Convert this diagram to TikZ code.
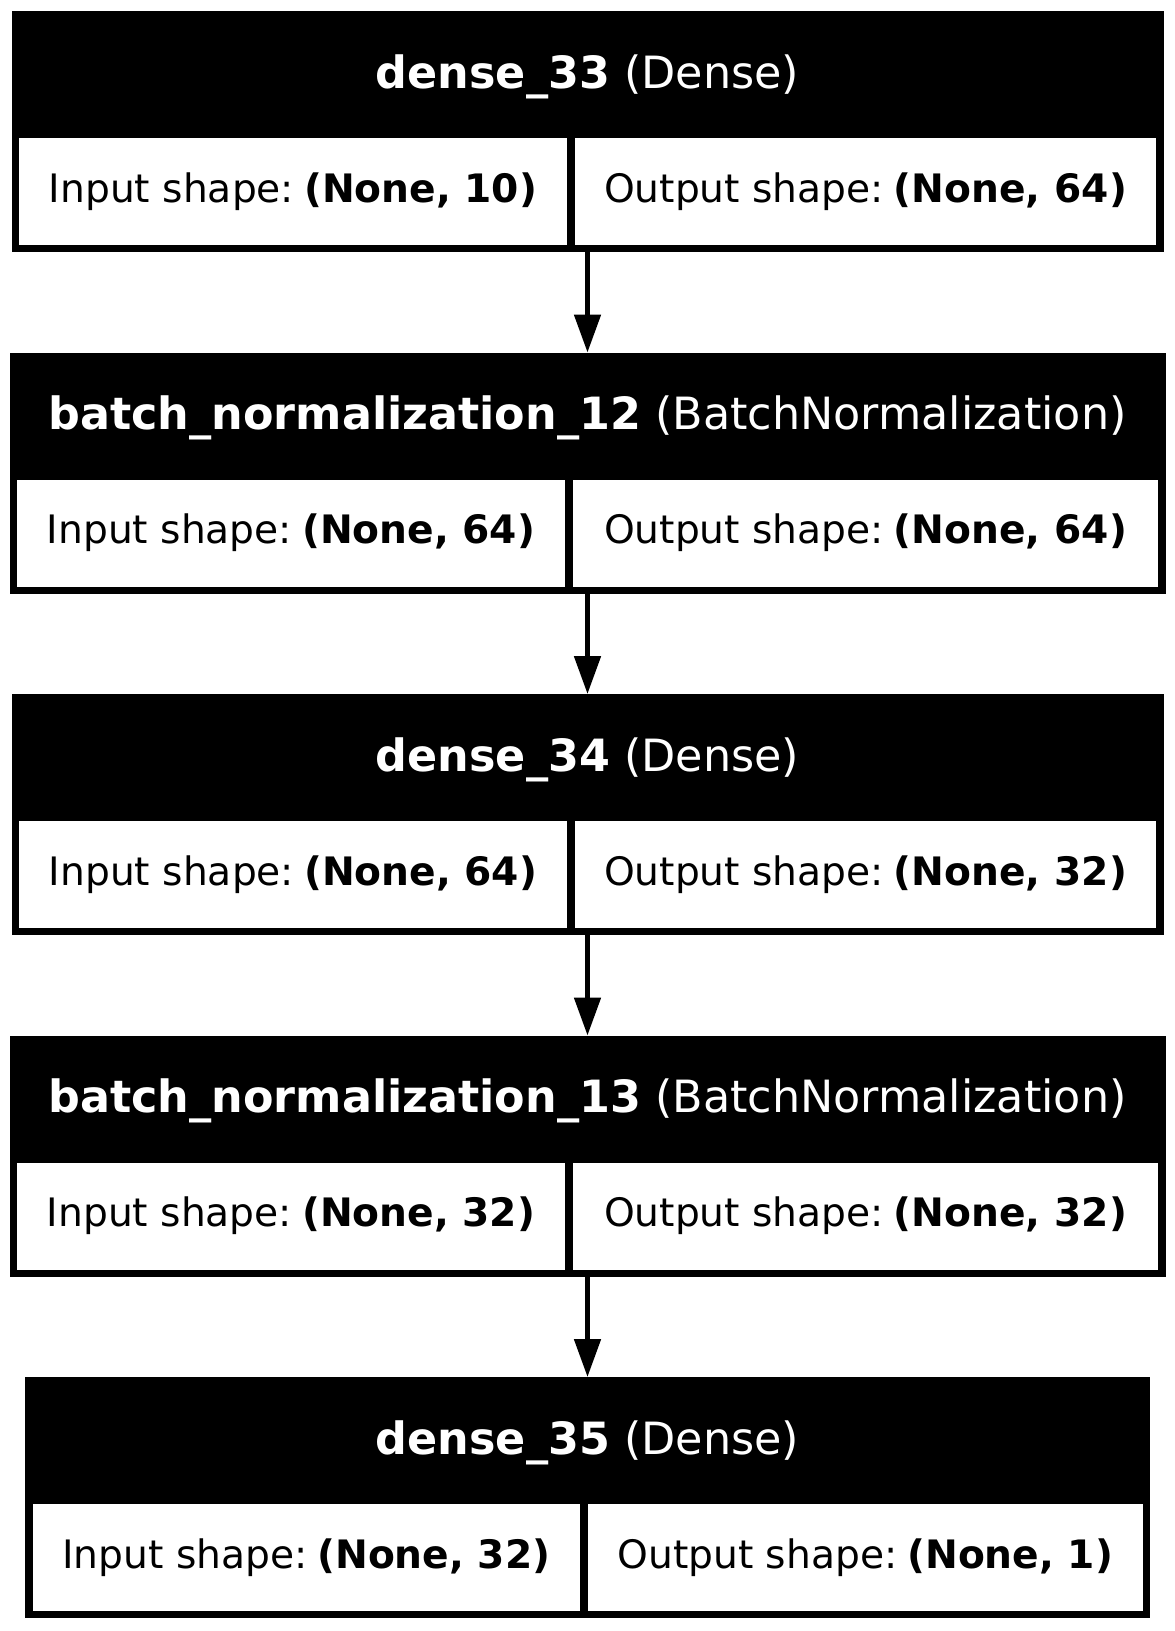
\documentclass[tikz,border=0pt]{standalone}
\usepackage{fontspec}
\setmainfont{DejaVu Sans}
\usepackage{tikz}
\usetikzlibrary{arrows, arrows.meta, positioning}
\tikzstyle{layer}=[rectangle, fill=black, inner sep=0pt, outer sep=0pt, minimum height=86.76pt, anchor=north]
\tikzstyle{head}=[text=white, inner sep=0pt, font=\fontsize{16}{19}\selectfont]
\tikzstyle{cell}=[rectangle, fill=white, inner sep=0pt, outer sep=0pt, minimum height=38.52pt, font=\fontsize{14.1}{17}\selectfont]
\tikzstyle{feed}=[{Triangle[width=9.36pt, length=13.68pt]}-, line width=1.8pt]

\begin{document}
\begin{tikzpicture}[x=1pt, y=-1pt]
          \useasboundingbox (0,0) rectangle (423,587.16);

          \node[layer, minimum width=414.72pt] (b1) at (211.5,3.96) {};
          \node[head] (h1) [below=27.72pt of b1.north, anchor=base] {\textbf{dense\_33} (Dense)};
          \node[cell, minimum width=197.28pt] (i1) [below right=45.72pt and 2.7pt of b1.north west] {Input shape:\hspace{3.6pt}\textbf{(None, 10)}};
          \node[cell, minimum width=209.16pt] (o1) [right=2.88pt of i1] {Output shape:\hspace{3.6pt}\textbf{(None, 64)}};

          \node[layer, minimum width=416.16pt] (b2) [below=36.18pt of b1] {}
							  edge [feed] (b1);
          \node[head] (h2) [below=27.72pt of b2.north, anchor=base] {\textbf{batch\_normalization\_12} (BatchNormalization)};
          \node[cell, minimum width=197.28pt] (i2) [below right=45.72pt and 2.7pt of b2.north west] {Input shape:\hspace{3.6pt}\textbf{(None, 64)}};
          \node[cell, minimum width=210.6pt] (o2) [right=2.88pt of i2] {Output shape:\hspace{3.6pt}\textbf{(None, 64)}};

          \node[layer, minimum width=414.72pt] (b3) [below=36.18pt of b2] {}
							  edge [feed] (b2);
          \node[head] (h3) [below=27.72pt of b3.north, anchor=base] {\textbf{dense\_34} (Dense)};
          \node[cell, minimum width=197.28pt] (i3) [below right=45.72pt and 2.7pt of b3.north west] {Input shape:\hspace{3.6pt}\textbf{(None, 64)}};
          \node[cell, minimum width=209.16pt] (o3) [right=2.88pt of i3] {Output shape:\hspace{3.6pt}\textbf{(None, 32)}};

          \node[layer, minimum width=416.16pt] (b4) [below=36.18pt of b3] {}
							  edge [feed] (b3);
          \node[head] (h4) [below=27.72pt of b4.north, anchor=base] {\textbf{batch\_normalization\_13} (BatchNormalization)};
          \node[cell, minimum width=197.28pt] (i4) [below right=45.72pt and 2.7pt of b4.north west] {Input shape:\hspace{3.6pt}\textbf{(None, 32)}};
          \node[cell, minimum width=210.6pt] (o4) [right=2.88pt of i4] {Output shape:\hspace{3.6pt}\textbf{(None, 32)}};

          \node[layer, minimum width=405pt] (b5) [below=36.18pt of b4] {}
							  edge [feed] (b4);
          \node[head] (h5) [below=27.72pt of b5.north, anchor=base] {\textbf{dense\_35} (Dense)};
          \node[cell, minimum width=197.1pt] (i5) [below right=45.72pt and 2.7pt of b5.north west] {Input shape:\hspace{3.6pt}\textbf{(None, 32)}};
          \node[cell, minimum width=199.62pt] (o5) [right=2.88pt of i5] {Output shape:\hspace{3.6pt}\textbf{(None, 1)}};
        \end{tikzpicture}
\end{document}
